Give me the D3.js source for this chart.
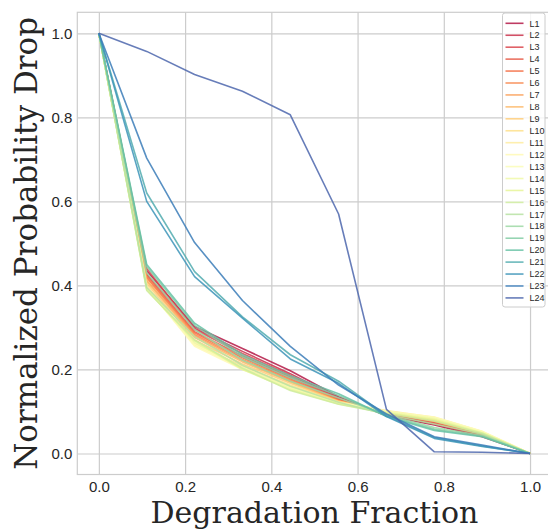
<!DOCTYPE html>
<html>
<head>
<meta charset="utf-8">
<script src="https://cdn.jsdelivr.net/npm/d3@7"></script>
<style>
  body { margin: 0; background: #fff; }
  svg { display: block; }
</style>
</head>
<body>
<div id="chart"></div>
<script>
// degradation fractions (x positions of every series)
const xValues = [0, 0.111, 0.222, 0.333, 0.444, 0.556, 0.667, 0.778, 0.889, 1.0];

const seriesNames = ["L1", "L2", "L3", "L4", "L5", "L6", "L7", "L8", "L9", "L10", "L11", "L12",
  "L13", "L14", "L15", "L16", "L17", "L18", "L19", "L20", "L21", "L22", "L23", "L24"];

// normalized probability drop, one row per series
const seriesValues = [
  [1, 0.435, 0.302, 0.250, 0.197, 0.135, 0.090, 0.068, 0.040, 0],
  [1, 0.428, 0.298, 0.243, 0.190, 0.132, 0.092, 0.070, 0.042, 0],
  [1, 0.440, 0.295, 0.238, 0.186, 0.130, 0.093, 0.072, 0.043, 0],
  [1, 0.425, 0.290, 0.232, 0.182, 0.128, 0.095, 0.074, 0.044, 0],
  [1, 0.420, 0.287, 0.228, 0.178, 0.127, 0.096, 0.076, 0.045, 0],
  [1, 0.418, 0.283, 0.224, 0.175, 0.126, 0.097, 0.077, 0.046, 0],
  [1, 0.412, 0.280, 0.221, 0.172, 0.125, 0.098, 0.078, 0.047, 0],
  [1, 0.410, 0.276, 0.218, 0.170, 0.124, 0.099, 0.080, 0.048, 0],
  [1, 0.405, 0.270, 0.213, 0.167, 0.124, 0.100, 0.082, 0.050, 0],
  [1, 0.400, 0.262, 0.208, 0.163, 0.123, 0.101, 0.084, 0.051, 0],
  [1, 0.398, 0.258, 0.204, 0.160, 0.122, 0.102, 0.086, 0.052, 0],
  [1, 0.395, 0.255, 0.200, 0.158, 0.121, 0.101, 0.087, 0.053, 0],
  [1, 0.393, 0.260, 0.202, 0.156, 0.120, 0.100, 0.085, 0.052, 0],
  [1, 0.392, 0.264, 0.205, 0.155, 0.119, 0.099, 0.083, 0.050, 0],
  [1, 0.390, 0.268, 0.200, 0.152, 0.118, 0.097, 0.080, 0.049, 0],
  [1, 0.388, 0.270, 0.203, 0.150, 0.117, 0.095, 0.077, 0.048, 0],
  [1, 0.395, 0.278, 0.210, 0.160, 0.122, 0.093, 0.070, 0.046, 0],
  [1, 0.430, 0.295, 0.222, 0.172, 0.132, 0.092, 0.062, 0.043, 0],
  [1, 0.445, 0.305, 0.230, 0.180, 0.138, 0.090, 0.058, 0.041, 0],
  [1, 0.450, 0.310, 0.235, 0.185, 0.142, 0.088, 0.055, 0.040, 0],
  [1, 0.620, 0.433, 0.325, 0.235, 0.172, 0.090, 0.038, 0.018, 0],
  [1, 0.600, 0.421, 0.322, 0.225, 0.167, 0.088, 0.036, 0.017, 0],
  [1, 0.703, 0.502, 0.364, 0.255, 0.163, 0.094, 0.040, 0.020, 0],
  [1, 0.957, 0.902, 0.862, 0.806, 0.570, 0.105, 0.004, 0.003, 0]
];

const xTicks = [0, 0.2, 0.4, 0.6, 0.8, 1.0];
const yTicks = [0, 0.2, 0.4, 0.6, 0.8, 1.0];

// ColorBrewer Spectral stops, sampled like seaborn's color_palette("Spectral", n)
const spectralStops = ["#9e0142", "#d53e4f", "#f46d43", "#fdae61", "#fee08b", "#ffffbf",
  "#e6f598", "#abdda4", "#66c2a5", "#3288bd", "#5e4fa2"];

const W = 548, H = 529;
const margin = { top: 12.3, left: 77.3, right: -3.6, bottom: 54.5 };
const width = W - margin.left - margin.right,
  height = H - margin.top - margin.bottom;

const spectral = d3.scaleLinear()
  .domain(d3.range(spectralStops.length).map(i => i / (spectralStops.length - 1)))
  .range(spectralStops)
  .interpolate(d3.interpolateRgb);
const colors = seriesNames.map((d, i) => spectral((i + 1) / (seriesNames.length + 1)));

const xScale = d3.scaleLinear().domain([-0.05, 1.05]).range([0, width]);
const yScale = d3.scaleLinear().domain([-0.05, 1.05]).range([height, 0]);

const svg = d3.select("#chart")
  .append("svg")
    .attr("width", W)
    .attr("height", H);

const g = svg.append("g")
    .attr("transform", "translate(" + margin.left + "," + margin.top + ")");

// grid lines
g.append("g")
    .attr("class", "grid")
    .call(d3.axisBottom(xScale).tickValues(xTicks).tickSize(height).tickFormat(""))
    .call(a => a.select(".domain").remove())
    .call(a => a.selectAll("line").attr("stroke", "#cccccc").attr("stroke-width", 1.2));

g.append("g")
    .attr("class", "grid")
    .call(d3.axisLeft(yScale).tickValues(yTicks).tickSize(-width).tickFormat(""))
    .call(a => a.select(".domain").remove())
    .call(a => a.selectAll("line").attr("stroke", "#cccccc").attr("stroke-width", 1.2));

// spines
g.append("rect")
    .attr("width", width)
    .attr("height", height)
    .attr("fill", "none")
    .attr("stroke", "#cccccc")
    .attr("stroke-width", 1.2);

// tick labels
const xAxis = g.append("g")
    .attr("transform", "translate(0," + height + ")")
    .call(d3.axisBottom(xScale).tickValues(xTicks).tickSize(0).tickPadding(7).tickFormat(d3.format(".1f")));
const yAxis = g.append("g")
    .call(d3.axisLeft(yScale).tickValues(yTicks).tickSize(0).tickPadding(5).tickFormat(d3.format(".1f")));

[xAxis, yAxis].forEach(a => {
  a.select(".domain").remove();
  a.selectAll("text")
    .attr("fill", "#262626")
    .style("font-family", "'Liberation Sans', Arial, sans-serif")
    .style("font-size", "15px");
});

// the series lines
const line = d3.line()
    .x((d, i) => xScale(xValues[i]))
    .y(d => yScale(d));

g.append("g")
  .selectAll(".series")
  .data(seriesValues)
  .enter()
  .append("path")
    .attr("class", "series")
    .attr("d", line)
    .attr("fill", "none")
    .attr("stroke", (d, i) => colors[i])
    .attr("stroke-opacity", 0.85)
    .attr("stroke-width", 1.6)
    .attr("stroke-linejoin", "round");

// axis labels
svg.append("text")
    .attr("x", margin.left + xScale(0.5))
    .attr("y", 523)
    .attr("text-anchor", "middle")
    .attr("fill", "#262626")
    .style("font-family", "'DejaVu Serif', serif")
    .style("font-size", "30px")
    .text("Degradation Fraction");

svg.append("text")
    .attr("transform", "translate(37," + (margin.top + height / 2) + ") rotate(-90)")
    .attr("text-anchor", "middle")
    .attr("fill", "#262626")
    .style("font-family", "'DejaVu Serif', serif")
    .style("font-size", "31px")
    .text("Normalized Probability Drop");

// legend, upper right
const legendX = 502.5, legendY = 13, rowH = 11.94;
const legend = svg.append("g")
    .attr("transform", "translate(" + legendX + "," + legendY + ")");

legend.append("rect")
    .attr("width", 42.5)
    .attr("height", 294)
    .attr("rx", 2.5)
    .attr("fill", "#ffffff")
    .attr("fill-opacity", 0.8)
    .attr("stroke", "#cccccc")
    .attr("stroke-width", 1);

const rows = legend.selectAll(".legendRow")
  .data(seriesNames)
  .enter()
  .append("g")
    .attr("class", "legendRow")
    .attr("transform", (d, i) => "translate(0," + (10.3 + i * rowH) + ")");

rows.append("line")
    .attr("x1", 3)
    .attr("x2", 21)
    .attr("stroke", (d, i) => colors[i])
    .attr("stroke-opacity", 0.85)
    .attr("stroke-width", 1.6);

rows.append("text")
    .attr("x", 27)
    .attr("y", 3.2)
    .attr("fill", "#262626")
    .style("font-family", "'Liberation Sans', Arial, sans-serif")
    .style("font-size", "9px")
    .text(d => d);
</script>
</body>
</html>
